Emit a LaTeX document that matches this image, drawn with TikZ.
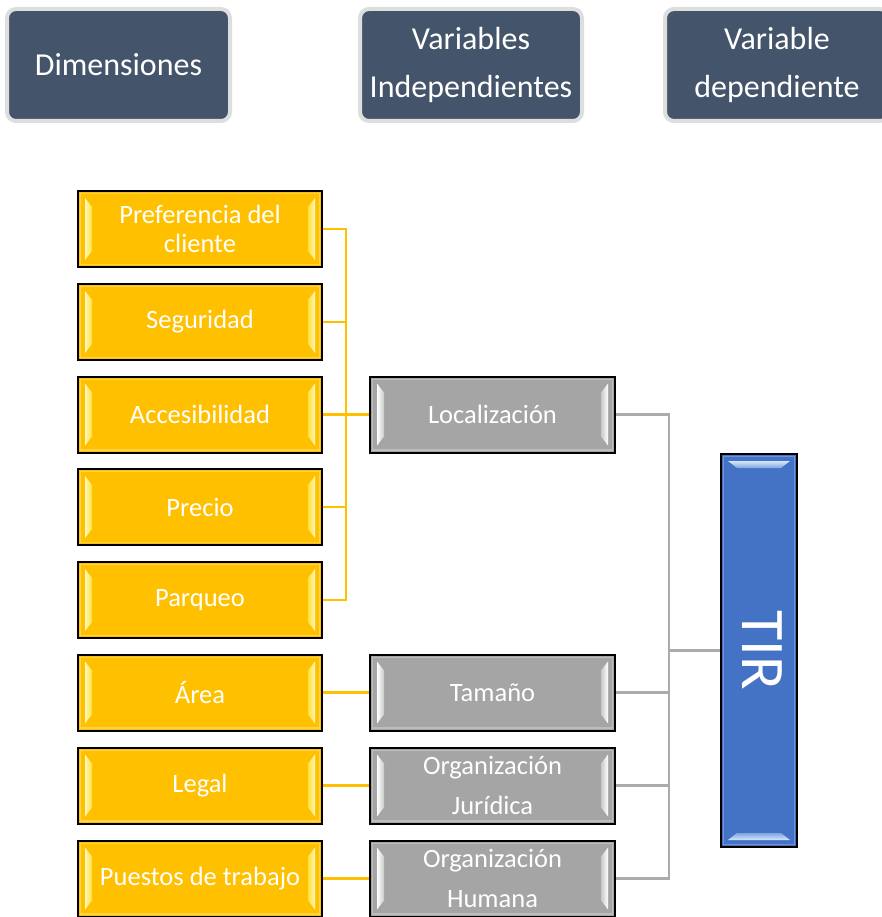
\documentclass[tikz,border=0pt]{standalone}
\usepackage{fontspec}
\setmainfont{Carlito}
\usetikzlibrary{positioning}

\definecolor{slate}{HTML}{44546A}
\definecolor{headrim}{HTML}{DEDEDE}
\definecolor{amber}{HTML}{FFC000}
\definecolor{amberhi}{HTML}{FFF8C0}
\definecolor{ambermid}{HTML}{FFE03A}
\definecolor{amberrim}{HTML}{FFD24D}
\definecolor{midgray}{HTML}{A5A5A5}
\definecolor{grayhi}{HTML}{FFFFFF}
\definecolor{graymid}{HTML}{C9C9C9}
\definecolor{grayrim}{HTML}{BDBDBD}
\definecolor{tirblue}{HTML}{4472C4}
\definecolor{bluehi}{HTML}{D6E6FA}
\definecolor{bluemid}{HTML}{7EA6E0}
\definecolor{bluerim}{HTML}{6E92D2}
\definecolor{linkyellow}{HTML}{FFC000}
\definecolor{linkgray}{HTML}{ABABAB}

\pgfdeclarelayer{links}
\pgfsetlayers{links,main}

% bevel stripes on the left and right sides of a box
\newcommand\sidebevel[4]{%
  \draw[#4, line width=1.2pt] ([shift={(2.6pt,-2.6pt)}]#1.north west) rectangle ([shift={(-2.6pt,2.6pt)}]#1.south east);
  \shade[left color=#2, right color=#3]
    ([shift={(7pt,-7pt)}]#1.north west) -- ([shift={(14pt,-16pt)}]#1.north west) --
    ([shift={(14pt,16pt)}]#1.south west) -- ([shift={(7pt,7pt)}]#1.south west) -- cycle;
  \shade[left color=#3, right color=#2]
    ([shift={(-7pt,-7pt)}]#1.north east) -- ([shift={(-14pt,-16pt)}]#1.north east) --
    ([shift={(-14pt,16pt)}]#1.south east) -- ([shift={(-7pt,7pt)}]#1.south east) -- cycle;
}
% bevel stripes on the top and bottom of a box
\newcommand\capbevel[4]{%
  \draw[#4, line width=1.2pt] ([shift={(2.6pt,-2.6pt)}]#1.north west) rectangle ([shift={(-2.6pt,2.6pt)}]#1.south east);
  \shade[top color=#2, bottom color=#3]
    ([shift={(7pt,-7pt)}]#1.north west) -- ([shift={(-7pt,-7pt)}]#1.north east) --
    ([shift={(-16pt,-14pt)}]#1.north east) -- ([shift={(16pt,-14pt)}]#1.north west) -- cycle;
  \shade[top color=#3, bottom color=#2]
    ([shift={(7pt,7pt)}]#1.south west) -- ([shift={(-7pt,7pt)}]#1.south east) --
    ([shift={(-16pt,14pt)}]#1.south east) -- ([shift={(16pt,14pt)}]#1.south west) -- cycle;
}

\begin{document}
\begin{tikzpicture}[x=1pt,y=-1pt,
  head/.style={draw=headrim, line width=4pt, fill=slate, rounded corners=9pt,
    text=white, font=\fontsize{32}{48}\selectfont, align=center,
    inner sep=0pt, outer sep=0pt, minimum height=112pt},
  dimbox/.style={draw=black, line width=2pt, fill=amber, minimum width=244pt,
    minimum height=76pt, text=white, font=\fontsize{26.5}{29}\selectfont,
    align=center, inner sep=0pt, outer sep=0pt},
  varbox/.style={draw=black, line width=2pt, fill=midgray, minimum width=245pt,
    minimum height=76pt, text=white, font=\fontsize{26.5}{40}\selectfont,
    align=center, inner sep=0pt, outer sep=0pt},
  tirbox/.style={draw=black, line width=2pt, fill=tirblue, minimum width=76pt,
    minimum height=393pt, inner sep=0pt, outer sep=0pt},
  ylink/.style={draw=linkyellow, line width=2.2pt},
  glink/.style={draw=linkgray, line width=2.2pt}]
\useasboundingbox (0,0) rectangle (881,917);

% column headings
\node[head, minimum width=223pt] (hdim) at (118.5,65) {Dimensiones};
\node[head, minimum width=222pt] (hind) at (471,65) {Variables\\Independientes};
\node[head, minimum width=224pt] (hdep) at (777,65) {Variable\\dependiente};

% dimensions
\node[dimbox] (d1) at (200,229)   {Preferencia del\\cliente};
\node[dimbox] (d2) at (200,322)   {Seguridad};
\node[dimbox] (d3) at (200,414.5) {Accesibilidad};
\node[dimbox] (d4) at (200,507)   {Precio};
\node[dimbox] (d5) at (200,600)   {Parqueo};
\node[dimbox] (d6) at (200,692.5) {Área};
\node[dimbox] (d7) at (200,785.5) {Legal};
\node[dimbox] (d8) at (200,878.5) {Puestos de trabajo};

% independent variables
\node[varbox] (vloc) at (492.5,414.5) {Localización};
\node[varbox] (vtam) at (492.5,692.5) {Tamaño};
\node[varbox] (vjur) at (492.5,785.5) {Organización\\Jurídica};
\node[varbox] (vhum) at (492.5,878.5) {Organización\\Humana};

% dependent variable
\node[tirbox] (tir) at (759,650.5) {};

\foreach \n in {d1,d2,d3,d4,d5,d6,d7,d8}{\sidebevel{\n}{amberhi}{ambermid}{amberrim}}
\foreach \n in {vloc,vtam,vjur,vhum}{\sidebevel{\n}{grayhi}{graymid}{grayrim}}
\capbevel{tir}{bluehi}{bluemid}{bluerim}
\node[text=white, rotate=-90, font=\fontsize{62}{62}\selectfont, inner sep=0pt] (tirtext) at ([xshift=3pt]tir.center) {TIR};

% connectors
\coordinate (yj) at (346,414.5);
\coordinate (gj) at (669,650.5);
\begin{pgfonlayer}{links}
  \draw[ylink] (d1.east) -| (yj);
  \draw[ylink] (d2.east) -| (yj);
  \draw[ylink] (d4.east) -| (yj);
  \draw[ylink] (d5.east) -| (yj);
  \draw[ylink] (d3.east) -- (yj);
  \draw[ylink, line width=3.2pt] (yj) -- (vloc.west);
  \draw[ylink] (d6.east) -- (vtam.west);
  \draw[ylink] (d7.east) -- (vjur.west);
  \draw[ylink] (d8.east) -- (vhum.west);
  \draw[glink] (vloc.east) -| (gj);
  \draw[glink] (vtam.east) -| (gj);
  \draw[glink] (vjur.east) -| (gj);
  \draw[glink] (vhum.east) -| (gj);
  \draw[glink, line width=3.2pt] (gj) -- (tir.west);
\end{pgfonlayer}
\end{tikzpicture}
\end{document}
